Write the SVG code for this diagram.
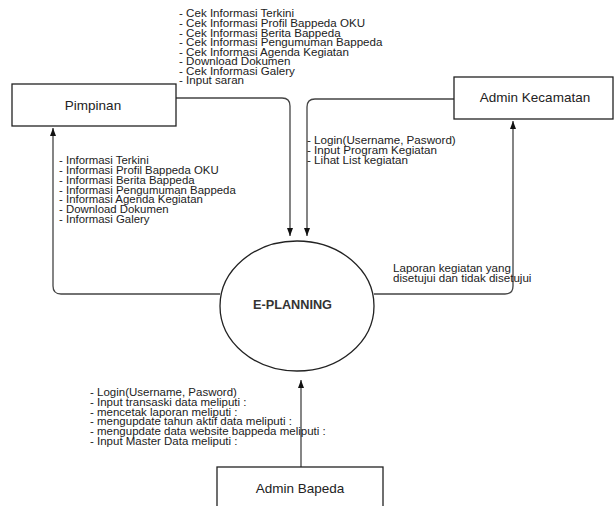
<svg xmlns="http://www.w3.org/2000/svg" width="616" height="506" viewBox="0 0 616 506">
<style>
.box{fill:#fff;stroke:#222;stroke-width:1.3}
.lbl{font-family:"Liberation Sans",Arial,sans-serif;font-size:13.5px;fill:#222;text-anchor:middle}
.t{font-family:"Liberation Sans",Arial,sans-serif;font-size:10px;fill:#222}
.c{fill:none;stroke:#444;stroke-width:1.3}
.proc{fill:#fff;stroke:#222;stroke-width:1.3}
.ptxt{font-family:"Liberation Sans",Arial,sans-serif;font-size:13px;font-weight:bold;fill:#333;text-anchor:middle}
</style>
<defs>
<marker id="ah" markerUnits="userSpaceOnUse" markerWidth="8" markerHeight="6" refX="8" refY="3" orient="auto">
<path d="M0,0 L8,3 L0,6 z" fill="#111"/>
</marker>
</defs>
<rect width="616" height="506" fill="#fff"/>
<g id="connectors">
<path class="c" d="M176,98 H282 Q290,98 290,106 V236" marker-end="url(#ah)"/>
<path class="c" d="M454,99 H315 Q307,99 307,107 V236" marker-end="url(#ah)"/>
<path class="c" d="M220,294 H61 Q53,294 53,286 V128" marker-end="url(#ah)"/>
<path class="c" d="M374,294 H505 Q513,294 513,286 V121" marker-end="url(#ah)"/>
<path class="c" d="M301,467 V380" marker-end="url(#ah)"/>
</g>
<g id="pimpinan">
<rect class="box" x="12" y="84" width="164" height="42"/>
<text class="lbl" x="93" y="110">Pimpinan</text>
</g>
<g id="admin-kecamatan">
<rect class="box" x="454" y="77" width="159" height="42"/>
<text class="lbl" x="535" y="102">Admin Kecamatan</text>
</g>
<g id="admin-bapeda">
<rect class="box" x="217" y="467" width="166" height="45"/>
<text class="lbl" x="300" y="493">Admin Bapeda</text>
</g>
<g id="e-planning">
<ellipse class="proc" cx="297" cy="306" rx="77" ry="65"/>
<text class="ptxt" x="292.5" y="308.7" textLength="79" lengthAdjust="spacingAndGlyphs">E-PLANNING</text>
</g>
<g id="labels">
<g transform="translate(179 0) scale(1.16 1)">
<text class="t" x="0" y="17.5">
<tspan x="0" dy="0">- Cek Informasi Terkini</tspan>
<tspan x="0" dy="9.55">- Cek Informasi Profil Bappeda OKU</tspan>
<tspan x="0" dy="9.55">- Cek Informasi Berita Bappeda</tspan>
<tspan x="0" dy="9.55">- Cek Informasi Pengumuman Bappeda</tspan>
<tspan x="0" dy="9.55">- Cek Informasi Agenda Kegiatan</tspan>
<tspan x="0" dy="9.55">- Download Dokumen</tspan>
<tspan x="0" dy="9.55">- Cek Informasi Galery</tspan>
<tspan x="0" dy="9.55">- Input saran</tspan>
</text>
</g>
<g transform="translate(59 0) scale(1.14 1)">
<text class="t" x="0" y="164.5">
<tspan x="0" dy="0">- Informasi Terkini</tspan>
<tspan x="0" dy="9.7">- Informasi Profil Bappeda OKU</tspan>
<tspan x="0" dy="9.7">- Informasi Berita Bappeda</tspan>
<tspan x="0" dy="9.7">- Informasi Pengumuman Bappeda</tspan>
<tspan x="0" dy="9.7">- Informasi Agenda Kegiatan</tspan>
<tspan x="0" dy="9.7">- Download Dokumen</tspan>
<tspan x="0" dy="9.7">- Informasi Galery</tspan>
</text>
</g>
<g transform="translate(307 0) scale(1.165 1)">
<text class="t" x="0" y="144.5">
<tspan x="0" dy="0">- Login(Username, Pasword)</tspan>
<tspan x="0" dy="9.6">- Input Program Kegiatan</tspan>
<tspan x="0" dy="9.6">- Lihat List kegiatan</tspan>
</text>
</g>
<g transform="translate(393 0) scale(1.16 1)">
<text class="t" x="0" y="272.5">
<tspan x="0" dy="0">Laporan kegiatan yang</tspan>
<tspan x="0" dy="9.6">disetujui dan tidak disetujui</tspan>
</text>
</g>
<g transform="translate(90 0) scale(1.15 1)">
<text class="t" x="0" y="396">
<tspan x="0" dy="0">- Login(Username, Pasword)</tspan>
<tspan x="0" dy="9.8">- Input transaski data meliputi :</tspan>
<tspan x="0" dy="9.8">- mencetak laporan meliputi :</tspan>
<tspan x="0" dy="9.8">- mengupdate tahun aktif data meliputi :</tspan>
<tspan x="0" dy="9.8">- mengupdate data website bappeda meliputi :</tspan>
<tspan x="0" dy="9.8">- Input Master Data meliputi :</tspan>
</text>
</g>
</g>
</svg>
